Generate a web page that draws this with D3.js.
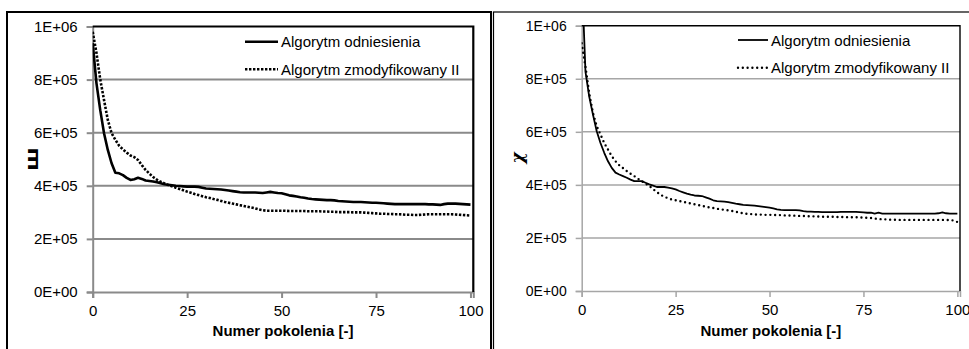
<!DOCTYPE html>
<html>
<head>
<meta charset="utf-8">
<script src="https://cdn.jsdelivr.net/npm/d3@7"></script>
<style>
  body { margin: 0; background: #fff; }
  svg { display: block; font-family: "Liberation Sans", Arial, sans-serif; }
</style>
</head>
<body>
<svg id="chart" width="969" height="349"></svg>
<script>
//
// Data (values in thousands)
//
const generations = d3.range(0, 101);
const seriesNames = ['Algorytm odniesienia', 'Algorytm zmodyfikowany II'];
const yTicks = [0, 200, 400, 600, 800, 1000];
const yTickLabels = ['0E+00', '2E+05', '4E+05', '6E+05', '8E+05', '1E+06'];
const xTicks = [0, 25, 50, 75, 100];
const xTitle = 'Numer pokolenia [-]';
const yTitles = ['ш', 'χ'];

// left chart
const refLeft = [937, 786, 685, 598, 535, 485, 449, 447, 440, 430,
  422, 425, 430, 426, 420, 418, 416, 413, 410, 406,
  404, 402, 400, 399, 398, 397, 397, 397, 396, 393,
  390, 389, 388, 387, 386, 384, 382, 380, 378, 376,
  375, 375, 375, 375, 374, 373, 375, 377, 375, 373,
  372, 368, 364, 362, 360, 357, 355, 352, 350, 349,
  348, 347, 346, 346, 345, 343, 342, 341, 340, 339,
  339, 339, 338, 337, 336, 336, 335, 334, 333, 332,
  331, 331, 331, 331, 331, 331, 331, 331, 331, 330,
  330, 329, 328, 331, 333, 333, 333, 332, 331, 330, 329];
const modLeft = [980, 900, 800, 723, 648, 598, 573, 551, 537, 525,
  514, 508, 497, 478, 460, 446, 433, 423, 415, 409,
  403, 398, 393, 388, 383, 378, 374, 369, 365, 361,
  357, 354, 350, 347, 343, 339, 336, 333, 330, 327,
  324, 321, 318, 315, 311, 308, 306, 306, 306, 306,
  306, 306, 305, 305, 305, 305, 305, 304, 304, 304,
  304, 303, 303, 302, 302, 301, 301, 301, 301, 300,
  300, 300, 299, 298, 297, 296, 295, 295, 294, 294,
  293, 293, 292, 291, 291, 290, 290, 291, 292, 293,
  293, 293, 293, 293, 293, 293, 292, 291, 290, 289, 288];

// right chart
const refRight = [1200, 827, 733, 665, 602, 558, 521, 489, 464, 446,
  439, 433, 427, 420, 414, 414, 414, 408, 402, 397,
  392, 392, 392, 390, 387, 383, 377, 372, 367, 363,
  360, 359, 358, 353, 348, 342, 339, 338, 337, 335,
  332, 329, 327, 325, 324, 323, 322, 320, 318, 316,
  314, 311, 308, 306, 305, 305, 305, 305, 304, 301,
  299, 299, 298, 298, 297, 297, 297, 297, 297, 298,
  298, 298, 298, 298, 297, 296, 295, 295, 292, 295,
  292, 292, 292, 292, 292, 292, 292, 292, 292, 292,
  292, 292, 292, 292, 292, 293, 296, 293, 292, 292, 292];
const modRight = [934, 846, 746, 671, 621, 590, 558, 533, 508, 489,
  474, 463, 452, 442, 433, 423, 414, 405, 396, 384,
  373, 363, 355, 350, 345, 342, 339, 336, 333, 330,
  327, 324, 321, 318, 315, 313, 310, 308, 306, 304,
  302, 299, 296, 293, 291, 290, 289, 288, 288, 287,
  287, 287, 286, 286, 285, 285, 284, 284, 283, 283,
  282, 282, 281, 281, 280, 280, 280, 280, 279, 279,
  279, 278, 278, 278, 277, 277, 276, 275, 273, 272,
  270, 270, 269, 269, 268, 268, 268, 268, 268, 268,
  268, 268, 268, 268, 268, 268, 268, 268, 267, 266, 260];

//
// Panel layout
//
const panels = [
  {
    frame: {x: 7, y: 12, w: 484, h: 360, sw: 2},
    plot: {x0: 92.7, x1: 473.3, y0: 26.5, y1: 292},
    xMax: 100.75,
    series: [refLeft, modLeft],
    yTitlePos: [32, 159], yTitleFont: '"DejaVu Sans", sans-serif',
    yTitleSize: 18, yTitleStyle: 'normal', yTitleScale: 1.25,
    grid: '#8a8a8a', gridW: 2, axisW: 2, borderW: 2.2,
    lineW: [2.6, 2.6], dash: '2.4,1.6', cap: 'butt',
    tickSize: 15, legendX: 245, legendW: 33, legendY: [41.7, 69.3]
  },
  {
    frame: {x: 493.5, y: 12, w: 500, h: 360, sw: 1.2},
    plot: {x0: 581.7, x1: 960, y0: 25.7, y1: 291},
    xMax: 100.7,
    series: [refRight, modRight],
    yTitlePos: [517, 158], yTitleFont: '"DejaVu Serif", serif',
    yTitleSize: 17, yTitleStyle: 'italic', yTitleScale: 1,
    grid: '#a6a6a6', gridW: 1.5, axisW: 1.5, borderW: 1.4,
    lineW: [1.8, 2.4], dash: '0,4.8', cap: 'round',
    tickSize: 14, legendX: 738, legendW: 30, legendY: [40, 67.7]
  }
];

//
// Drawing
//
const svg = d3.select('#chart');

function drawPanel(p, idx) {
  const g = svg.append('g');
  const x = d3.scaleLinear().domain([0, p.xMax]).range([p.plot.x0, p.plot.x1]);
  const y = d3.scaleLinear().domain([0, 1000]).range([p.plot.y1, p.plot.y0]);

  // outer frame
  g.append('rect')
      .attr('x', p.frame.x).attr('y', p.frame.y)
      .attr('width', p.frame.w).attr('height', p.frame.h)
      .attr('fill', 'none').attr('stroke', '#000').attr('stroke-width', p.frame.sw);

  // gridlines
  g.selectAll('.grid')
      .data(yTicks.filter(d => d > 0 && d < 1000))
      .join('line')
      .attr('x1', p.plot.x0).attr('x2', p.plot.x1)
      .attr('y1', d => y(d)).attr('y2', d => y(d))
      .attr('stroke', p.grid).attr('stroke-width', p.gridW);

  // y axis
  const yAxis = g.append('g')
      .attr('transform', `translate(${p.plot.x0},0)`)
      .call(d3.axisLeft(y).tickValues(yTicks).tickSize(6).tickPadding(9)
          .tickFormat((d, i) => yTickLabels[i]));
  // x axis
  const xAxis = g.append('g')
      .attr('transform', `translate(0,${p.plot.y1})`)
      .call(d3.axisBottom(x).tickValues(xTicks).tickSize(6).tickPadding(7));

  [yAxis, xAxis].forEach(a => {
    a.select('.domain').attr('stroke', p.grid).attr('stroke-width', p.axisW);
    a.selectAll('.tick line').attr('stroke', p.grid).attr('stroke-width', p.axisW);
    a.selectAll('.tick text')
        .attr('fill', '#000')
        .style('font-family', '"Liberation Sans", Arial, sans-serif')
        .style('font-size', p.tickSize + 'px');
  });
  xAxis.selectAll('.tick text').style('font-size', '15px');

  // plot border top / right
  g.append('path')
      .attr('d', `M${p.plot.x0},${p.plot.y0}H${p.plot.x1}V${p.plot.y1}`)
      .attr('fill', 'none').attr('stroke', '#000').attr('stroke-width', p.borderW);

  // series
  const clipId = 'clip' + idx;
  g.append('clipPath').attr('id', clipId)
      .append('rect')
      .attr('x', p.plot.x0).attr('y', p.plot.y0)
      .attr('width', p.plot.x1 - p.plot.x0).attr('height', p.plot.y1 - p.plot.y0);

  const line = d3.line().x((d, i) => x(generations[i])).y(d => y(d));
  p.series.forEach((values, s) => {
    g.append('path')
        .datum(values)
        .attr('clip-path', `url(#${clipId})`)
        .attr('d', line)
        .attr('fill', 'none')
        .attr('stroke', '#000')
        .attr('stroke-width', p.lineW[s])
        .attr('stroke-linejoin', 'round')
        .attr('stroke-linecap', s === 1 ? p.cap : 'butt')
        .attr('stroke-dasharray', s === 1 ? p.dash : null);
  });

  // legend
  seriesNames.forEach((name, s) => {
    const ly = p.legendY[s];
    g.append('line')
        .attr('x1', p.legendX).attr('x2', p.legendX + p.legendW)
        .attr('y1', ly).attr('y2', ly)
        .attr('stroke', '#000').attr('stroke-width', p.lineW[s])
        .attr('stroke-linecap', s === 1 ? p.cap : 'butt')
        .attr('stroke-dasharray', s === 1 ? p.dash : null);
    g.append('text')
        .attr('x', p.legendX + p.legendW + 3).attr('y', ly + 5.5)
        .style('font-size', '15px')
        .text(name);
  });

  // axis titles
  g.append('text')
      .attr('x', (p.plot.x0 + p.plot.x1) / 2).attr('y', 336)
      .attr('text-anchor', 'middle')
      .style('font-size', '15px').style('font-weight', 'bold')
      .text(xTitle);

  g.append('text')
      .attr('transform', `translate(${p.yTitlePos[0]},${p.yTitlePos[1]}) rotate(-90) scale(${p.yTitleScale},1)`)
      .attr('text-anchor', 'middle').attr('dy', '0.35em')
      .style('font-family', p.yTitleFont)
      .style('font-style', p.yTitleStyle)
      .style('font-size', p.yTitleSize + 'px').style('font-weight', 'bold')
      .text(yTitles[idx]);
}

panels.forEach(drawPanel);
</script>
</body>
</html>
